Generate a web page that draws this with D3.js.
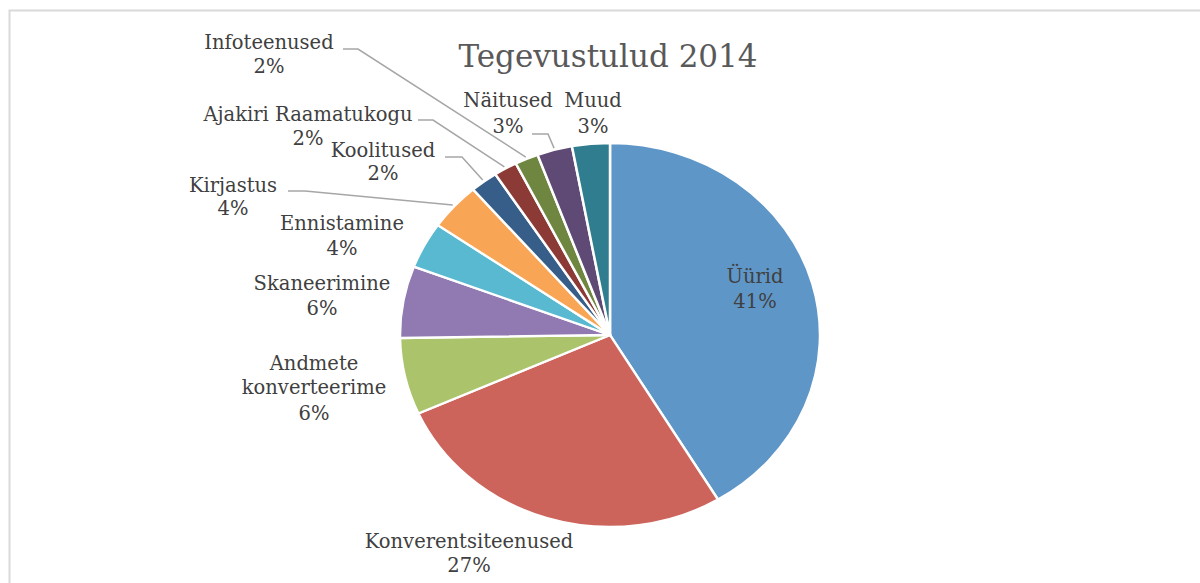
<!DOCTYPE html>
<html>
<head>
<meta charset="utf-8">
<script src="https://cdn.jsdelivr.net/npm/d3@7"></script>
<style>
  html, body { margin: 0; padding: 0; background: #fff; }
  svg { display: block; }
  text { font-family: "DejaVu Serif", serif; fill: #404040; }
</style>
</head>
<body>
<svg id="chart" width="1200" height="583"></svg>
<script>
// Tegevustulud 2014 — kululiikide osakaal
const categories = [
  "Üürid", "Konverentsiteenused", "Andmete konverteerime", "Skaneerimine",
  "Ennistamine", "Kirjastus", "Koolitused", "Ajakiri Raamatukogu",
  "Infoteenused", "Näitused", "Muud"
];
const shares = [41.4, 26.9, 6.45, 6.05, 3.9, 4.0, 2.1, 1.8, 1.8, 2.7, 2.9];
const colors = [
  "#5F96C8", "#CC645C", "#ABC46B", "#9179B2", "#59B9D0", "#F9A556",
  "#375E89", "#8C3A36", "#6F8641", "#5E4A75", "#307D8F"
];

const data = categories.map((c, i) => ({ name: c, value: shares[i] }));

const svg = d3.select("#chart");
const cx = 610, cy = 335, R = 210, sy = 0.914;

// raam
svg.append("path")
  .attr("d", "M9.5,583 V10.5 H1200")
  .attr("fill", "none")
  .attr("stroke", "#d9d9d9")
  .attr("stroke-width", 2);

// pealkiri
svg.append("text")
  .attr("x", 608).attr("y", 67)
  .attr("text-anchor", "middle")
  .style("font-size", "31px")
  .style("fill", "#595959")
  .text("Tegevustulud 2014");

const pie = d3.pie().sort(null).value(d => d.value);
const arcs = pie(data);
const arc = d3.arc().innerRadius(0).outerRadius(R);

const g = svg.append("g")
  .attr("transform", `translate(${cx},${cy}) scale(1,${sy})`);

g.selectAll("path.slice")
  .data(arcs)
  .enter()
  .append("path")
  .attr("class", "slice")
  .attr("d", arc)
  .attr("fill", (d, i) => colors[i])
  .attr("stroke", "#fff")
  .attr("stroke-width", 2.5)
  .attr("stroke-linejoin", "round");

// siltide paigutus (keskpunkt x, read baasjoontega)
const layout = [
  { x: 755, rows: [["Üürid", 283], ["%", 308]] },
  { x: 469, rows: [["Konverentsiteenused", 548], ["%", 572]] },
  { x: 314, rows: [["Andmete", 370], ["konverteerime", 394], ["%", 420]] },
  { x: 322, rows: [["Skaneerimine", 290], ["%", 315]] },
  { x: 342, rows: [["Ennistamine", 230], ["%", 255]] },
  { x: 233, rows: [["Kirjastus", 192], ["%", 215]], lead: [288, 191, 305] },
  { x: 383, rows: [["Koolitused", 157], ["%", 180]], lead: [445, 157, 462] },
  { x: 308, rows: [["Ajakiri Raamatukogu", 121], ["%", 145]], lead: [418, 120, 433] },
  { x: 269, rows: [["Infoteenused", 49], ["%", 73]], lead: [343, 49, 358] },
  { x: 508, rows: [["Näitused", 107], ["%", 133]], lead: [532, 134, 548] },
  { x: 593, rows: [["Muud", 107], ["%", 133]] }
];

// juhtjooned
const leadR = R + 2;
arcs.forEach((a, i) => {
  const L = layout[i].lead;
  if (!L) return;
  const mid = (a.startAngle + a.endAngle) / 2;
  const ex = cx + leadR * Math.sin(mid);
  const ey = cy - leadR * Math.cos(mid) * sy;
  svg.append("path")
    .attr("d", `M${L[0]},${L[1]} H${L[2]} L${ex},${ey}`)
    .attr("fill", "none")
    .attr("stroke", "#a6a6a6")
    .attr("stroke-width", 1.5);
});

// sildid
const labels = svg.append("g");
arcs.forEach((a, i) => {
  const lay = layout[i];
  lay.rows.forEach(([txt, y]) => {
    labels.append("text")
      .attr("x", lay.x).attr("y", y)
      .attr("text-anchor", "middle")
      .style("font-size", "19.5px")
      .text(txt === "%" ? Math.round(a.data.value) + "%" : txt);
  });
});
</script>
</body>
</html>
